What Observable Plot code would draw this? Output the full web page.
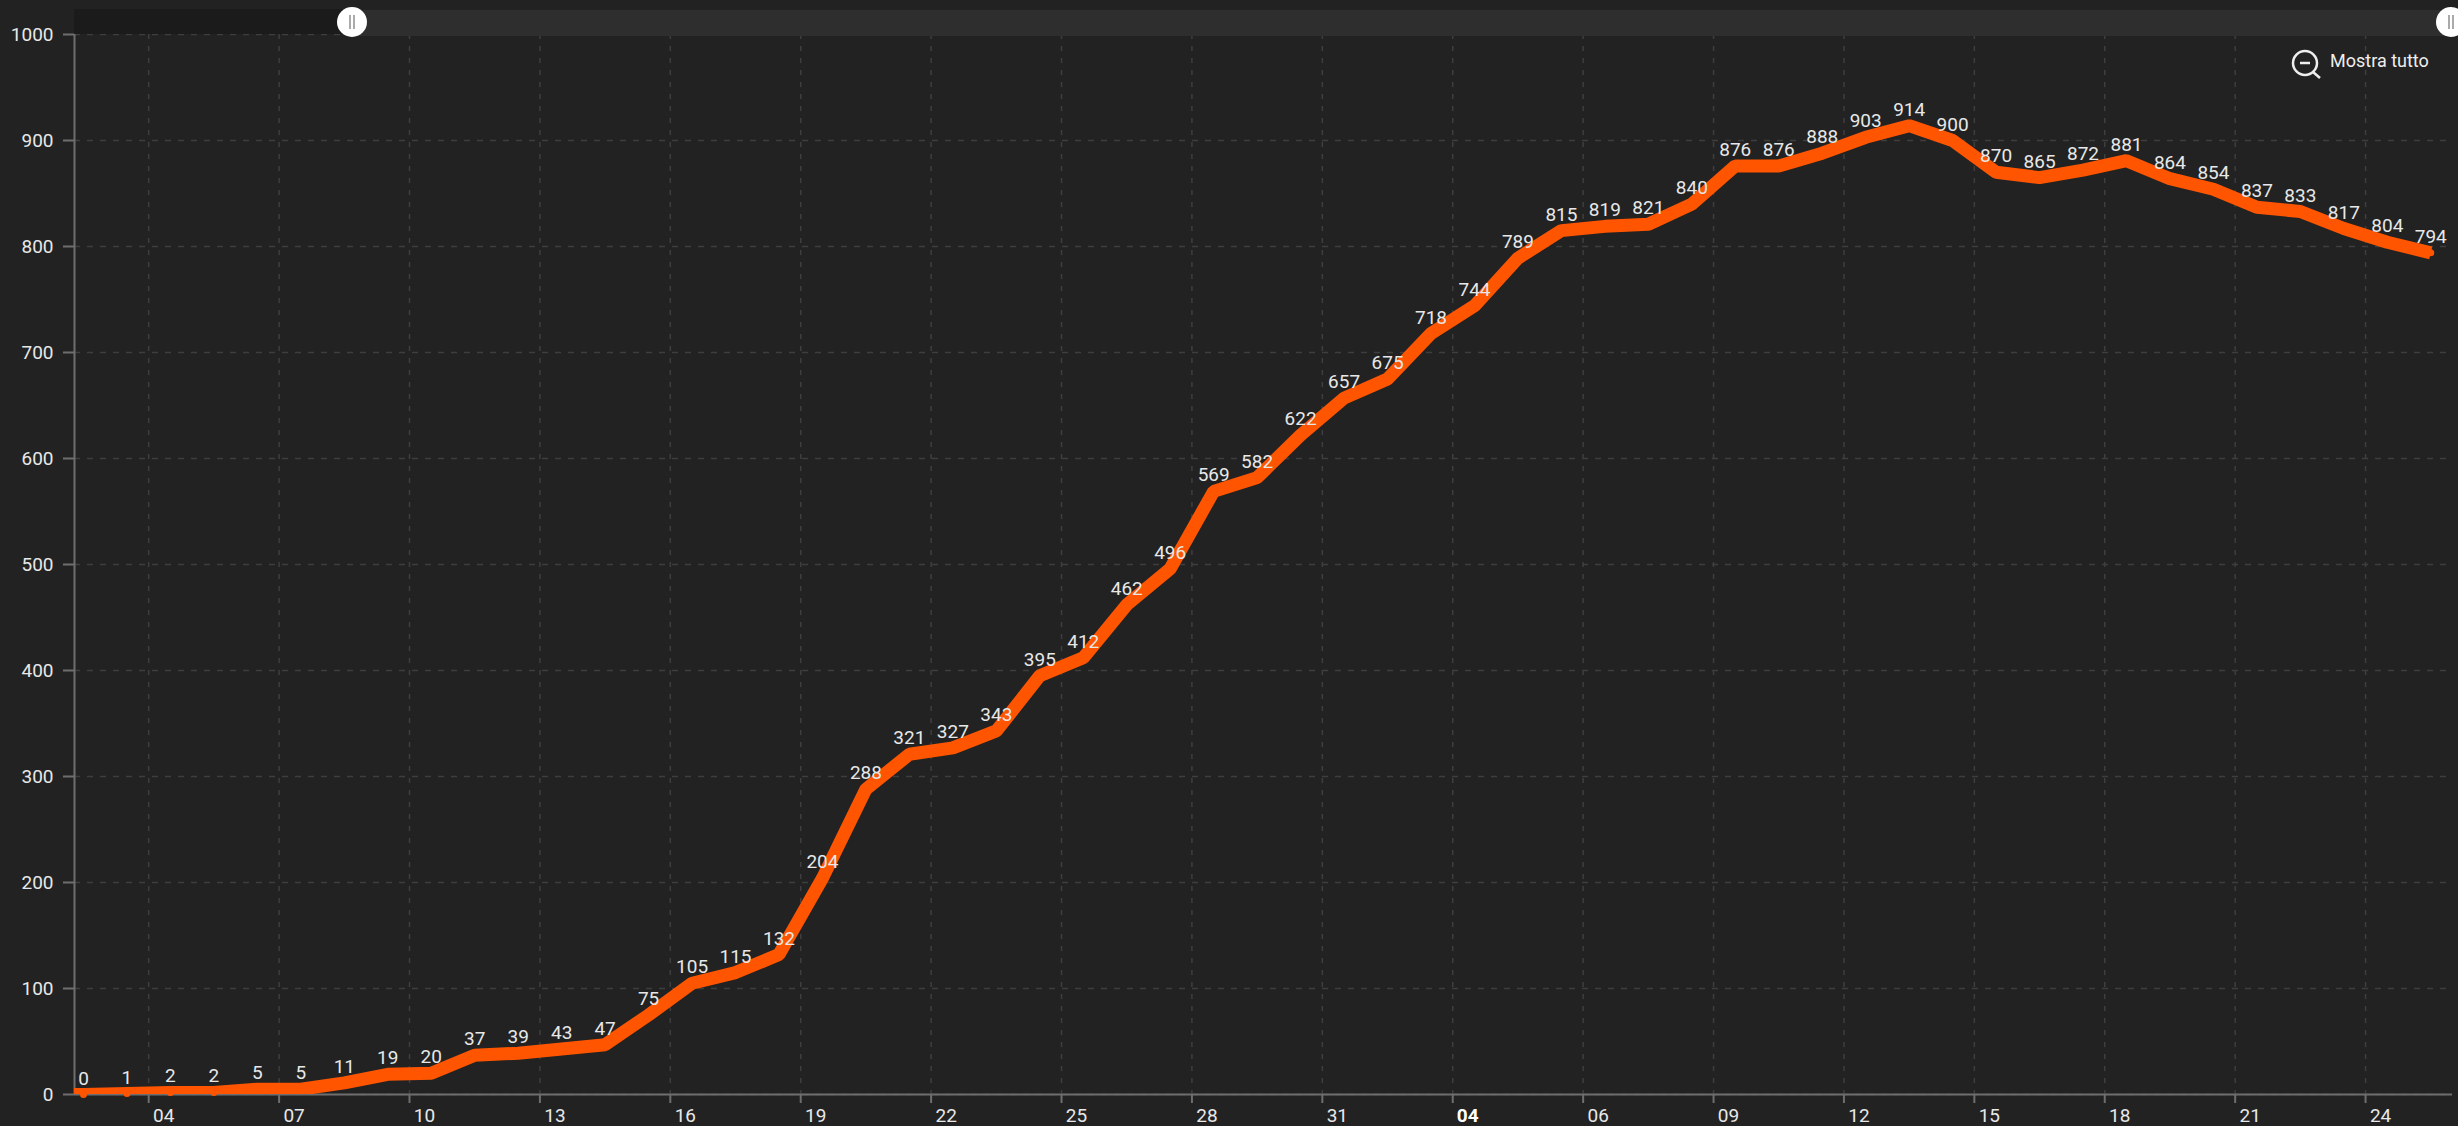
<!DOCTYPE html>
<html><head><meta charset="utf-8">
<script src="https://cdn.jsdelivr.net/npm/d3@7"></script>
<script src="https://cdn.jsdelivr.net/npm/@observablehq/plot@0.6"></script>
<style>
html,body{margin:0;padding:0;background:#222222;overflow:hidden}
#wrap{position:relative;width:2458px;height:1126px}
#chart{position:absolute;left:0;top:0}
#chart svg{display:block;background:transparent}
.over{position:absolute}
</style></head><body>
<div id="wrap"><div id="chart"></div>
<div class="over" style="left:74px;top:9px;width:278px;height:25px;background:#1b1b1b"></div>
<div class="over" style="left:352px;top:10px;width:2106px;height:26px;background:#2e2e2e"></div>
<div class="over" style="left:337px;top:7px;width:30px;height:30px;border-radius:50%;background:#fff"></div>
<div class="over" style="left:349px;top:15px;width:2px;height:14px;background:#aaa"></div>
<div class="over" style="left:353px;top:15px;width:2px;height:14px;background:#aaa"></div>
<div class="over" style="left:2436px;top:7px;width:30px;height:30px;border-radius:50%;background:#fff"></div>
<div class="over" style="left:2448px;top:15px;width:2px;height:14px;background:#aaa"></div>
<div class="over" style="left:2452px;top:15px;width:2px;height:14px;background:#aaa"></div>
<svg class="over" style="left:2290px;top:48px" width="34" height="32"><circle cx="15" cy="15" r="12" fill="none" stroke="#eee" stroke-width="2.5"/><line x1="10" y1="15" x2="20" y2="15" stroke="#eee" stroke-width="2.5"/><line x1="23" y1="24" x2="30" y2="30" stroke="#eee" stroke-width="2.5"/></svg>
<div class="over" style="left:2330px;top:50px;font:18px Roboto,sans-serif;color:#eee">Mostra tutto</div>
</div>
<script>
const values=[0,1,2,2,5,5,11,19,20,37,39,43,47,75,105,115,132,204,288,321,327,343,395,412,462,496,569,582,622,657,675,718,744,789,815,819,821,840,876,876,888,903,914,900,870,865,872,881,864,854,837,833,817,804,794];
const tickLabels=["04","07","10","13","16","19","22","25","28","31","04","06","09","12","15","18","21","24"];
const tickDays=[1.5,4.5,7.5,10.5,13.5,16.5,19.5,22.5,25.5,28.5,31.5,34.5,37.5,40.5,43.5,46.5,49.5,52.5];
const yTicks=[0,100,200,300,400,500,600,700,800,900,1000];
const boldTick=31.5;
const pts=values.map((v,i)=>({i,v}));
const line=[{i:-1,v:0},...pts];
const c="#6e6e6e", g="#3e3e3e", tc="#e8e8e8";
const labelOf=d=>tickLabels[tickDays.indexOf(d)];
const plot=Plot.plot({
 width:2458,height:1126,marginLeft:74,marginRight:6,marginTop:34,marginBottom:32,
 style:{background:"transparent",fontFamily:"Roboto,sans-serif"},
 x:{domain:[-0.207,54.5],axis:null},
 y:{domain:[0,1000],axis:null},
 marks:[
  Plot.ruleX(tickDays,{stroke:g,strokeDasharray:"5,7",strokeWidth:1.5}),
  Plot.ruleY(yTicks,{stroke:g,strokeDasharray:"6,7",strokeWidth:1.5}),
  Plot.ruleY([0],{stroke:c,strokeWidth:2}),
  Plot.ruleX([-0.207],{stroke:c,strokeWidth:2}),
  Plot.axisX({ticks:tickDays,tickSize:9,text:null,label:null,stroke:c,strokeWidth:2}),
  Plot.axisY({ticks:yTicks,tickSize:11,tickPadding:10,label:null,stroke:c,strokeWidth:2,fontSize:19,fill:tc,tickFormat:String}),
  Plot.dot(pts,{x:"i",y:"v",r:3.5,fill:"#ff5500"}),
  Plot.line(line,{x:"i",y:"v",stroke:"#ff5500",strokeWidth:13,strokeLinejoin:"miter",strokeLinecap:"butt",clip:true}),
  Plot.text(pts,{x:"i",y:"v",text:"v",dy:-16,fontSize:19,fill:tc}),
  Plot.axisX({ticks:tickDays.filter(d=>d!==boldTick),tickSize:0,tickPadding:14,dx:15,label:null,fontSize:19,fill:tc,tickFormat:labelOf}),
  Plot.axisX({ticks:[boldTick],tickSize:0,tickPadding:14,dx:15,label:null,fontSize:19,fontWeight:"bold",fill:"#fff",tickFormat:labelOf})
 ]
});
document.getElementById("chart").append(plot);
</script></body></html>
